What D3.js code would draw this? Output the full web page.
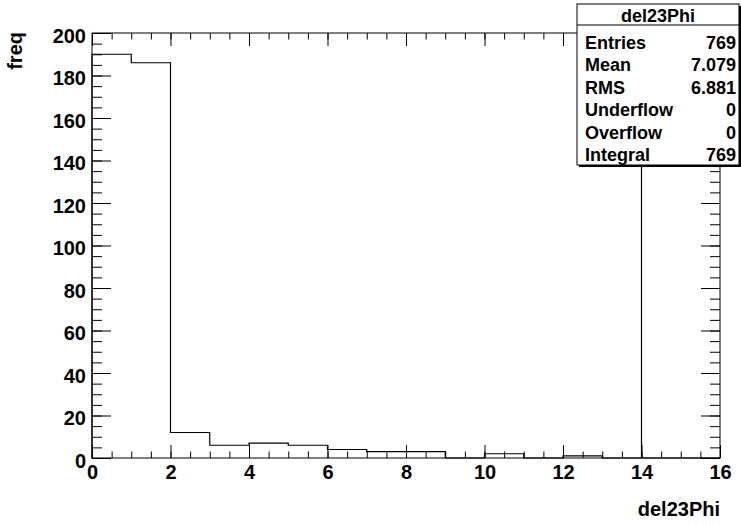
<!DOCTYPE html>
<html lang="en">
<head>
    <meta charset="UTF-8">
    <title>del23Phi</title>
    <style>
        body { margin: 0; background: #fff; }
        text { font-family: "Liberation Sans", Arial, sans-serif; font-weight: bold; fill: #000; }
    </style>
</head>
<body>
<script src="https://cdn.jsdelivr.net/npm/d3@7"></script>
<script>
    // histogram del23Phi, bins of width 1 from 0 to 16
    var binLow = [0, 1, 2, 3, 4, 5, 6, 7, 8, 9, 10, 11, 12, 13, 14, 15];
    var counts = [190, 186, 12, 6, 7, 6, 4, 3, 3, 0, 2, 0, 1, 0, 0, 0];
    var binWidth = 1;
    var cutValue = 14;   // the lone vertical line

    var xTicks = [0, 2, 4, 6, 8, 10, 12, 14, 16];
    var yTicks = [0, 20, 40, 60, 80, 100, 120, 140, 160, 180, 200];

    var statsTitle = "del23Phi";
    var statsNames = ["Entries", "Mean", "RMS", "Underflow", "Overflow", "Integral"];
    var statsValues = ["769", "7.079", "6.881", "0", "0", "769"];

    var width = 741,
        height = 525;
    var margin = {left: 92, top: 33, right: 21, bottom: 67};
    var w = width - margin.left - margin.right,
        h = height - margin.top - margin.bottom;

    var svg = d3.select("body")
        .append("svg")
        .attr("width", width)
        .attr("height", height);

    var x = d3.scaleLinear().domain([0, 16]).range([0, w]);
    var y = d3.scaleLinear().domain([0, 200]).range([h, 0]);

    var g = svg.append("g")
        .attr("transform", "translate(" + margin.left + "," + margin.top + ")");

    var xMinor = d3.range(0, 16.01, 0.5);
    var yMinor = d3.range(0, 200.1, 5);

    // minor ticks first, all pointing inside the frame
    g.append("g").attr("transform", "translate(0," + h + ")")
        .call(d3.axisBottom(x).tickValues(xMinor).tickSize(-6.5).tickSizeOuter(0).tickFormat(""));
    g.append("g")
        .call(d3.axisTop(x).tickValues(xMinor).tickSize(-6.5).tickSizeOuter(0).tickFormat(""));
    g.append("g")
        .call(d3.axisLeft(y).tickValues(yMinor).tickSize(-10).tickSizeOuter(0).tickFormat(""));
    g.append("g").attr("transform", "translate(" + w + ",0)")
        .call(d3.axisRight(y).tickValues(yMinor).tickSize(-10).tickSizeOuter(0).tickFormat(""));

    // major ticks
    var xAxis = g.append("g").attr("transform", "translate(0," + h + ")")
        .call(d3.axisBottom(x).tickValues(xTicks).tickSize(-13).tickSizeOuter(0).tickPadding(7));
    g.append("g")
        .call(d3.axisTop(x).tickValues(xTicks).tickSize(-13).tickSizeOuter(0).tickFormat(""));
    var yAxis = g.append("g")
        .call(d3.axisLeft(y).tickValues(yTicks).tickSize(-19).tickSizeOuter(0).tickPadding(6));
    g.append("g").attr("transform", "translate(" + w + ",0)")
        .call(d3.axisRight(y).tickValues(yTicks).tickSize(-19).tickSizeOuter(0).tickFormat(""));

    g.selectAll(".domain").remove();
    g.selectAll(".tick line").attr("stroke", "#000").attr("stroke-width", 1);
    xAxis.selectAll("text").attr("font-size", 20).style("font-family", null).attr("font-family", null);
    yAxis.selectAll("text").attr("font-size", 20).attr("dy", "0.45em");
    svg.selectAll(".tick text").attr("font-family", null);

    // frame
    g.append("rect")
        .attr("width", w).attr("height", h)
        .attr("fill", "none").attr("stroke", "#000").attr("stroke-width", 1);

    // histogram outline
    var pts = [[binLow[0], 0]];
    binLow.forEach(function(b, i) { pts.push([b, counts[i]]); });
    pts.push([binLow[binLow.length - 1] + binWidth, counts[counts.length - 1]]);
    pts.push([binLow[binLow.length - 1] + binWidth, 0]);

    var line = d3.line()
        .x(function(d) { return x(d[0]); })
        .y(function(d) { return y(d[1]); })
        .curve(d3.curveStepAfter);

    g.append("path").datum(pts)
        .attr("d", line)
        .attr("fill", "none").attr("stroke", "#000").attr("stroke-width", 1.2);

    g.append("line")
        .attr("x1", x(cutValue)).attr("x2", x(cutValue))
        .attr("y1", y(0)).attr("y2", y(200))
        .attr("stroke", "#000").attr("stroke-width", 1.2);

    // axis titles
    svg.append("text")
        .attr("x", margin.left + w).attr("y", 516)
        .attr("text-anchor", "end").attr("font-size", 20)
        .text("del23Phi");
    svg.append("text")
        .attr("transform", "translate(22,32) rotate(-90)")
        .attr("text-anchor", "end").attr("font-size", 20)
        .text("freq");

    // stats box
    var bx = 577, by = 4, bw = 162, bh = 161;
    var stats = svg.append("g");
    stats.append("rect").attr("x", bx + 2).attr("y", by + 2).attr("width", bw).attr("height", bh).attr("fill", "#000");
    stats.append("rect").attr("x", bx).attr("y", by).attr("width", bw).attr("height", bh)
        .attr("fill", "#fff").attr("stroke", "#000").attr("stroke-width", 1);
    stats.append("line").attr("x1", bx).attr("x2", bx + bw).attr("y1", 25).attr("y2", 25)
        .attr("stroke", "#000");
    stats.append("text").attr("x", bx + bw / 2).attr("y", 22)
        .attr("text-anchor", "middle").attr("font-size", 18).text(statsTitle);

    var rowY = d3.scaleLinear().domain([0, statsNames.length - 1]).range([49, 161]);
    stats.selectAll("text.name").data(statsNames).enter().append("text")
        .attr("class", "name")
        .attr("x", 585).attr("y", function(d, i) { return rowY(i); })
        .attr("font-size", 18).text(function(d) { return d; });
    stats.selectAll("text.val").data(statsValues).enter().append("text")
        .attr("class", "val")
        .attr("x", 736).attr("y", function(d, i) { return rowY(i); })
        .attr("text-anchor", "end")
        .attr("font-size", 18).text(function(d) { return d; });
</script>
</body>
</html>
